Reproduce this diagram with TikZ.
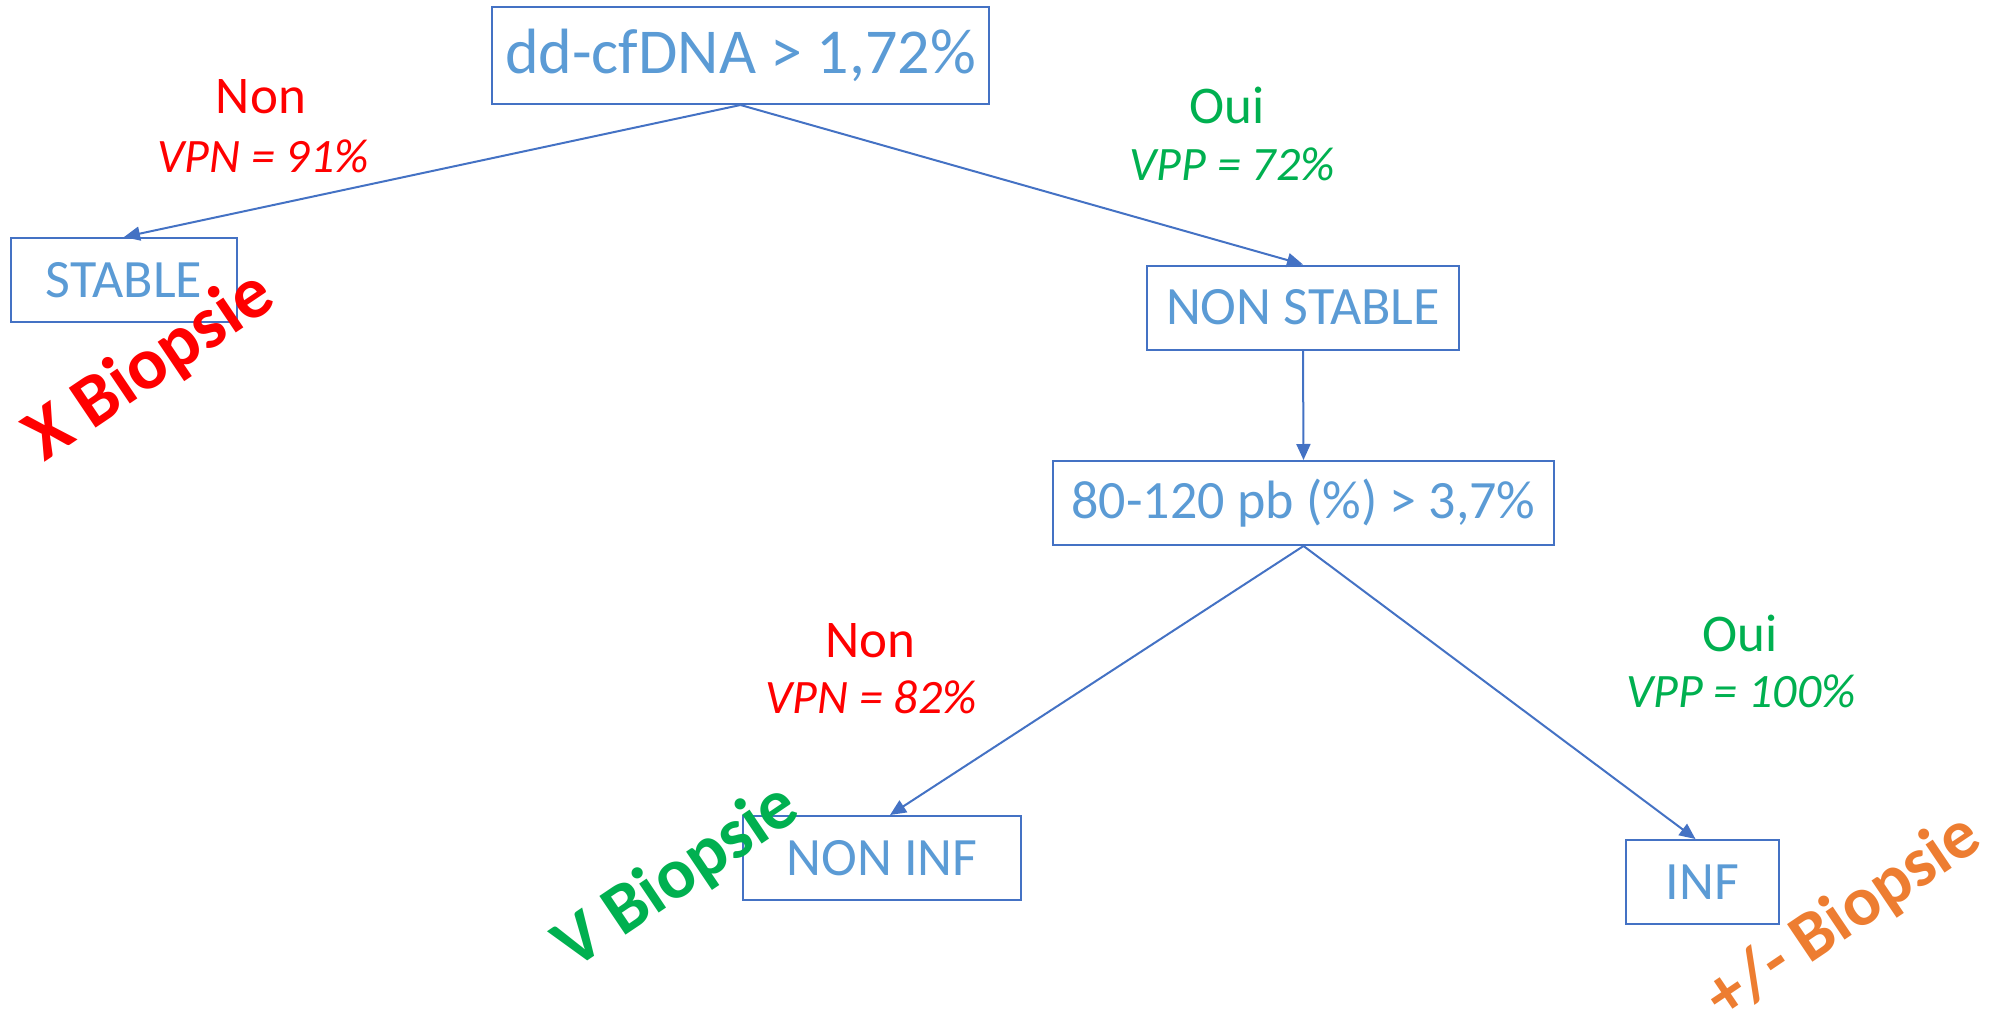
\documentclass[tikz,border=0pt]{standalone}
\usepackage{fontspec}
\setmainfont{Carlito}
\usetikzlibrary{arrows.meta}

\definecolor{boxline}{RGB}{68,114,196}
\definecolor{boxtext}{RGB}{91,155,213}
\definecolor{nonred}{RGB}{255,0,0}
\definecolor{ouigreen}{RGB}{0,176,80}
\definecolor{maybeorange}{RGB}{237,125,49}

\tikzset{
  box/.style={draw=boxline, line width=2pt, text=boxtext, minimum height=84pt, inner sep=0pt, font=\fontsize{54}{64}\selectfont},
  arr/.style={draw=boxline, line width=2pt, -{Triangle[length=16pt,width=14pt]}},
  lab/.style={anchor=base, inner sep=0pt, font=\fontsize{48}{58}\selectfont},
  answer/.style={lab, font=\fontsize{53}{63}\selectfont},
  verdict/.style={rotate=34, inner sep=0pt, font=\bfseries\fontsize{74}{86}\selectfont}
}

\begin{document}
\begin{tikzpicture}[x=1pt, y=-1pt]
		\useasboundingbox (0,0) rectangle (2003,1031);

		% decision boxes
		\node[box, minimum width=497pt, minimum height=97pt, font=\fontsize{64}{76}\selectfont] (cfdna) at (740.5,55.5) {dd-cfDNA > 1,72\%};
		\node[box, minimum width=226pt] (stable) at (124,280) {STABLE};
		\node[box, minimum width=312pt] (nonstable) at (1303,307.5) {NON STABLE};
		\node[box, minimum width=501pt] (frag) at (1303.5,503) {80-120 pb (\%) > 3,7\%};
		\node[box, minimum width=278pt] (noninf) at (882,858) {NON INF};
		\node[box, minimum width=153pt] (inf) at (1702.5,882) {INF};

		% arrows
		\draw[arr] (cfdna.south) -- (stable.north);
		\draw[arr] (cfdna.south) -- (nonstable.north);
		\draw[arr] (nonstable.south) -- (frag.north);
		\draw[arr] (frag.south) -- ([xshift=8pt]noninf.north);
		\draw[arr] (frag.south) -- ([xshift=-7pt]inf.north);

		% branch labels
		\node[answer, text=nonred] (nonA) at (261,113) {Non};
		\node[lab, text=nonred] (vpnA) at (263,172) {\itshape VPN = 91\%};
		\node[answer, text=ouigreen] (ouiA) at (1227,123) {Oui};
		\node[lab, text=ouigreen] (vppA) at (1232,180) {\itshape VPP = 72\%};
		\node[answer, text=nonred] (nonB) at (870,657) {Non};
		\node[lab, text=nonred] (vpnB) at (871,713) {\itshape VPN = 82\%};
		\node[answer, text=ouigreen] (ouiB) at (1740,651) {Oui};
		\node[lab, text=ouigreen] (vppB) at (1741,707) {\itshape VPP = 100\%};

		% biopsy verdicts
		\node[verdict, text=nonred] (nobiop) at (150,367) {X Biopsie};
		\node[verdict, text=ouigreen, font=\bfseries\fontsize{72}{84}\selectfont] (yesbiop) at (677,877) {V Biopsie};
		\node[verdict, text=maybeorange, font=\bfseries\fontsize{70}{82}\selectfont] (maybebiop) at (1844,918) {+/- Biopsie};
	\end{tikzpicture}
\end{document}
